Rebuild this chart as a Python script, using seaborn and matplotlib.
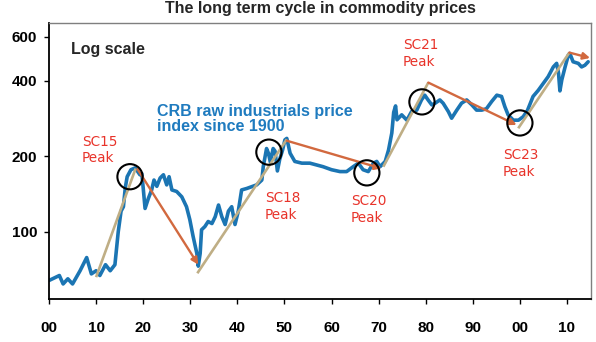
import matplotlib
matplotlib.use("Agg")
import matplotlib.pyplot as plt
import matplotlib.ticker as mticker
import seaborn as sns
import pandas as pd

# --- data ---
years = [1900.0, 1902.2, 1903.0, 1904.0, 1905.0, 1906.6, 1908.0, 1909.0, 1910.0, 1910.8,
         1912.0, 1913.0, 1914.0, 1914.7, 1915.3, 1915.8, 1916.2, 1916.6, 1917.4, 1918.3,
         1919.3, 1919.7, 1920.0, 1920.4, 1921.1, 1921.8, 1922.3, 1922.9, 1923.6, 1924.3,
         1925.0, 1925.5, 1926.1, 1927.1, 1928.2, 1929.2, 1929.9, 1930.6, 1931.4, 1931.7,
         1932.1, 1932.4, 1933.1, 1933.8, 1934.6, 1935.3, 1936.0, 1936.7, 1937.4, 1938.1,
         1938.8, 1939.5, 1940.2, 1940.9, 1942.0, 1944.1, 1945.2, 1945.5, 1945.9, 1946.2,
         1946.6, 1947.0, 1947.6, 1948.0, 1948.5, 1949.0, 1949.6, 1950.1, 1950.5, 1951.2,
         1952.2, 1953.7, 1955.4, 1956.8, 1958.2, 1960.0, 1961.8, 1963.2, 1964.6, 1965.7,
         1966.7, 1967.8, 1968.9, 1969.6, 1970.3, 1971.4, 1972.1, 1972.8, 1973.2, 1973.6,
         1973.9, 1974.9, 1976.0, 1977.0, 1978.1, 1979.1, 1979.8, 1980.5, 1981.3, 1982.0,
         1983.0, 1983.7, 1984.8, 1985.5, 1986.6, 1987.6, 1988.7, 1989.8, 1990.8, 1991.9,
         1992.9, 1994.0, 1995.1, 1996.1, 1996.8, 1997.5, 1998.6, 1999.7, 2000.7, 2001.6,
         2002.8, 2003.9, 2005.0, 2006.0, 2007.1, 2007.8, 2008.2, 2008.5, 2008.9, 2009.6,
         2010.3, 2010.6, 2011.3, 2012.4, 2013.1, 2013.8, 2014.5]
crb_index = [64, 67, 62, 65, 62, 70, 79, 68, 70, 67,
             74, 70, 74, 100, 121, 126, 150, 166, 177, 180,
             169, 171, 150, 124, 136, 147, 161, 152, 164, 169,
             154, 166, 147, 145, 138, 126, 112, 96, 82, 73,
             82, 102, 105, 110, 108, 115, 128, 115, 107, 121,
             126, 107, 121, 147, 149, 154, 161, 182, 200, 215,
             206, 190, 215, 210, 175, 195, 212, 233, 236, 206,
             191, 188, 188, 185, 182, 177, 174, 174, 182, 188,
             177, 174, 188, 191, 182, 191, 212, 248, 300, 318,
             280, 293, 279, 302, 306, 336, 351, 336, 321, 326,
             336, 326, 302, 284, 306, 326, 336, 321, 306, 306,
             310, 331, 351, 347, 316, 293, 279, 279, 288, 305,
             347, 367, 392, 416, 455, 470, 430, 365, 404, 455,
             508, 515, 477, 470, 455, 462, 477]

# rising phases (tan lines): start/end year and value
up_start_year = [1910.0, 1931.5, 1971.0, 1999.65]
up_start_val = [66, 68.4, 182, 259]
up_end_year = [1918.4, 1950.5, 1980.55, 2010.5]
up_end_val = [179, 234, 394, 519]

# falling phases (orange arrows)
down_start_year = [1918.8, 1950.5, 1980.55, 2010.5]
down_start_val = [178, 231, 394, 519]
down_end_year = [1931.7, 1970.65, 1999.3, 2014.9]
down_end_val = [74, 179, 267, 494]

# circled peaks / troughs
circle_year = [1917.2, 1946.7, 1967.5, 1979.2, 2000.0]
circle_val = [166, 208, 172, 330, 272]

cycle_labels = ["SC15\nPeak", "SC18\nPeak", "SC20\nPeak", "SC21\nPeak", "SC23\nPeak"]
xtick_years = [1900, 1910, 1920, 1930, 1940, 1950, 1960, 1970, 1980, 1990, 2000, 2010]
ytick_vals = [100, 200, 400, 600]

# --- style ---
sns.set_style("ticks")
plt.rcParams['font.family'] = ['Liberation Sans', 'DejaVu Sans']

BLUE = "#1b75b3"
BLUE_TXT = "#1f7bbf"
TAN = "#bfae85"
ORANGE = "#d2693f"
RED = "#e8332a"

fig = plt.figure(figsize=(5.96, 3.42), dpi=100)
ax = fig.add_axes([49 / 596, 1 - 299 / 342, 542 / 596, 276 / 342])

df = pd.DataFrame({"year": years, "index": crb_index})
sns.lineplot(data=df, x="year", y="index", ax=ax, color=BLUE, lw=2.6, zorder=2)

for xs, ys, xe, ye in zip(up_start_year, up_start_val, up_end_year, up_end_val):
    ax.plot([xs, xe], [ys, ye], color=TAN, lw=1.9, zorder=3, solid_capstyle="butt")

for xs, ys, xe, ye in zip(down_start_year, down_start_val, down_end_year, down_end_val):
    ax.annotate("", xy=(xe, ye), xytext=(xs, ys),
                arrowprops=dict(arrowstyle="-|>,head_length=0.4,head_width=0.2",
                                color=ORANGE, lw=1.7, shrinkA=0, shrinkB=0),
                zorder=3, annotation_clip=False)

ax.scatter(circle_year, circle_val, s=330, facecolors="none", edgecolors="black",
           linewidths=1.5, zorder=4)

ax.set_yscale("log")
ax.set_xlim(1900, 2015.1)
ax.set_ylim(54.0, 681)
ax.set_xticks(xtick_years)
ax.xaxis.set_major_formatter(mticker.FuncFormatter(lambda v, p: f"{int(round(v)) % 100:02d}"))
ax.set_yticks(ytick_vals)
ax.yaxis.set_major_formatter(mticker.FuncFormatter(lambda v, p: f"{int(round(v))}"))
ax.yaxis.set_minor_locator(mticker.NullLocator())
ax.set_xlabel("")
ax.set_ylabel("")

ax.tick_params(axis="both", direction="out", length=3.5, width=1, colors="black", labelsize=11)
ax.tick_params(axis="x", pad=12)
ax.tick_params(axis="y", pad=5)
for lab in ax.get_xticklabels() + ax.get_yticklabels():
    lab.set_fontweight("bold")

for s in ["left", "bottom"]:
    ax.spines[s].set_color("black")
    ax.spines[s].set_linewidth(1.3)
for s in ["top", "right"]:
    ax.spines[s].set_visible(True)
    ax.spines[s].set_color("#7f7f7f")
    ax.spines[s].set_linewidth(1.0)

ax.set_title("The long term cycle in commodity prices", fontsize=11.5, fontweight="bold", pad=7)

ax.text(0.0406, 0.93, "Log scale", transform=ax.transAxes, fontsize=11.5,
        fontweight="bold", va="top", ha="left")
ax.text(0.1993, 0.708, "CRB raw industrials price\nindex since 1900", transform=ax.transAxes,
        fontsize=11.5, fontweight="bold", color=BLUE_TXT, va="top", ha="left", linespacing=1.0)

label_pos = [(0.0609, 0.596), (0.3985, 0.390), (0.5572, 0.379), (0.6531, 0.944), (0.8376, 0.546)]
for (lx, ly), txt in zip(label_pos, cycle_labels):
    ax.text(lx, ly, txt, transform=ax.transAxes, fontsize=9.8, color=RED,
            va="top", ha="left", family=["DejaVu Sans"], linespacing=1.25)

fig.savefig("out.png", dpi=100)
